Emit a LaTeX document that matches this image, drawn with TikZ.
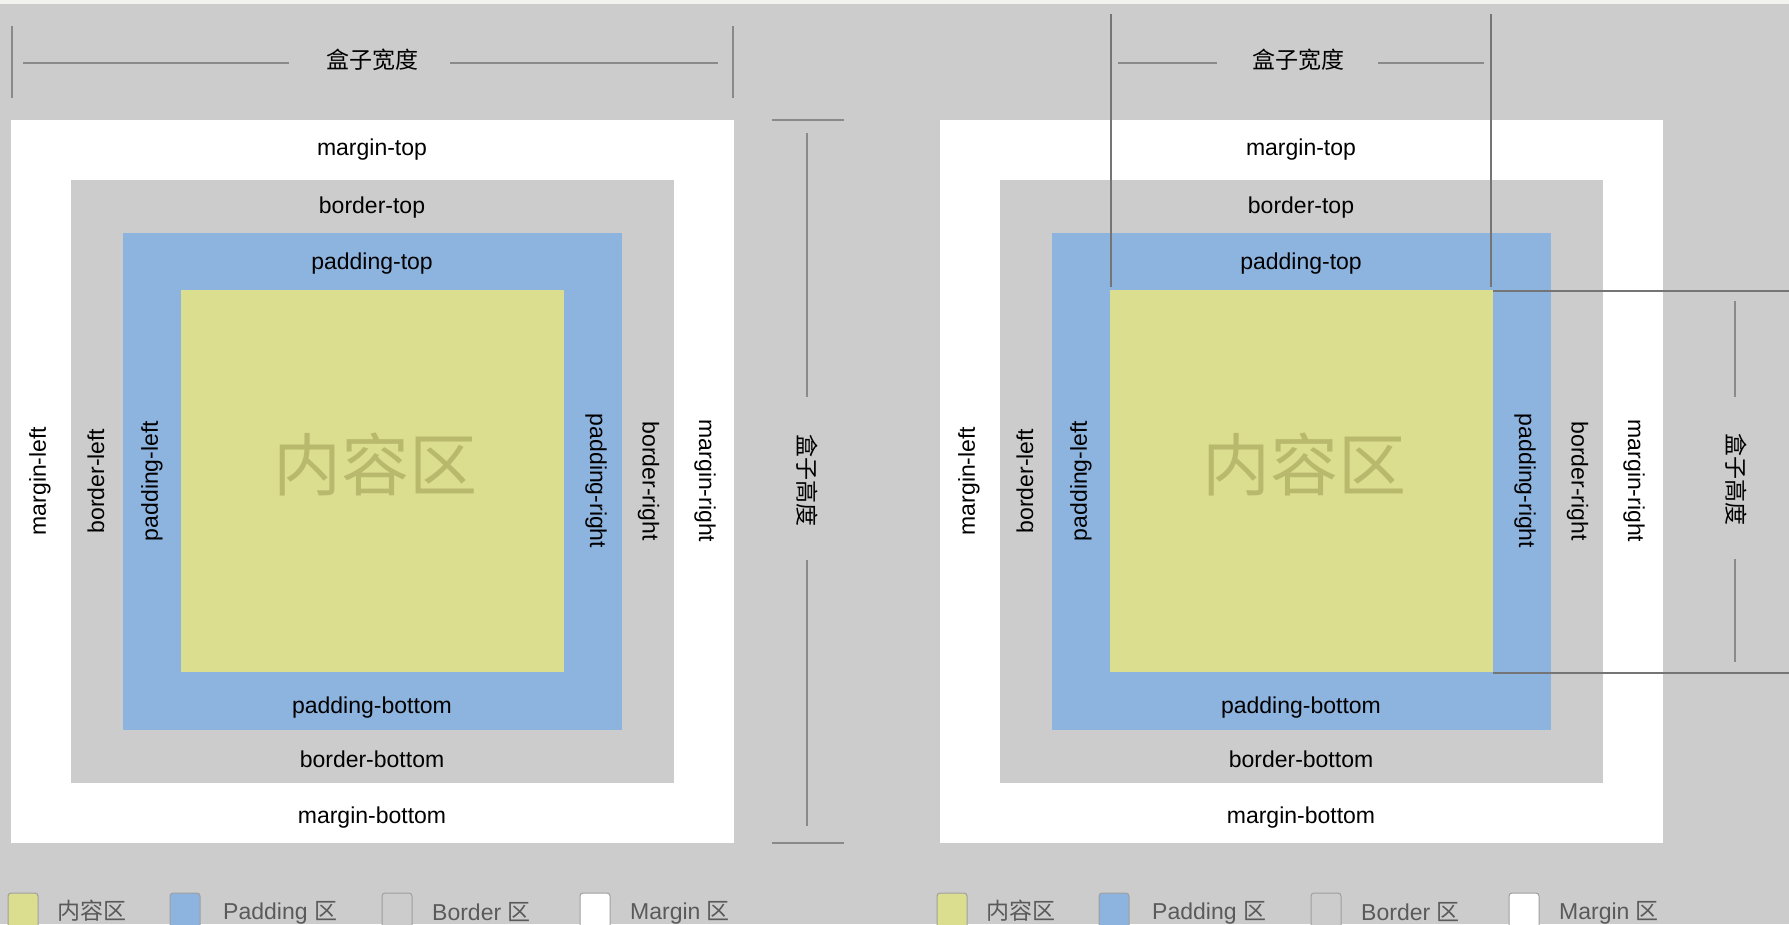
\documentclass[tikz,border=0pt]{standalone}
\usepackage{fontspec}
\setmainfont{Liberation Sans}
\newfontfamily\cjk{Noto Sans CJK SC}
\definecolor{bgc}{HTML}{CCCCCC}
\definecolor{topc}{HTML}{F2F2EE}
\definecolor{contentc}{HTML}{DBDD8F}
\definecolor{paddingc}{HTML}{8DB3DF}
\definecolor{borderc}{HTML}{CCCCCC}
\definecolor{marginc}{HTML}{FFFFFF}
\definecolor{bigtextc}{HTML}{B9B96E}
\definecolor{dimc}{HTML}{8A8A8A}
\definecolor{legtextc}{HTML}{5A5A5A}
\tikzset{
  lbl/.style={font=\fontsize{23}{26}\selectfont, text=black, inner sep=0pt, anchor=center},
  dimtxt/.style={font=\cjk\fontsize{23}{26}\selectfont, text=black, inner sep=0pt, anchor=center},
  dimline/.style={draw=dimc, line width=1.4pt},
  guideline/.style={draw=dimc!85!black, line width=1.2pt},
  legbox/.style={draw=gray!75, line width=1pt, rounded corners=3pt},
  legtxt/.style={font=\fontsize{23}{26}\selectfont, text=legtextc, inner sep=0pt, anchor=west},
  bigtxt/.style={font=\cjk\fontsize{68}{70}\selectfont, text=bigtextc, inner sep=0pt, anchor=center}
}
\begin{document}
\begin{tikzpicture}[x=1pt,y=-1pt]
\useasboundingbox (0,0) rectangle (1789,924);
\clip (0,0) rectangle (1789,924);
\fill[bgc] (0,0) rectangle (1789,924);
\fill[topc] (0,0) rectangle (1789,4);

\foreach \o/\p in {0/L,929/R}{
  \begin{scope}[xshift=\o pt]
    \fill[marginc] (11,120) rectangle (734,843);
    \fill[borderc] (71,180) rectangle (674,783);
    \fill[paddingc] (123,233) rectangle (622,730);
    \fill[contentc] (181,290) rectangle (564,672);
    \node[bigtxt] (\p-big) at (375,464) {内容区};
    \node[lbl] (\p-mt) at (372,149.5) {margin-top};
    \node[lbl] (\p-bt) at (372,207.5) {border-top};
    \node[lbl] (\p-pt) at (372,263.5) {padding-top};
    \node[lbl] (\p-pb) at (372,707.5) {padding-bottom};
    \node[lbl] (\p-bb) at (372,759.5) {border-bottom};
    \node[lbl] (\p-mb) at (372,817.5) {margin-bottom};
    \node[lbl,rotate=90] (\p-ml) at (40,481) {margin-left};
    \node[lbl,rotate=90] (\p-bl) at (96,481) {border-left};
    \node[lbl,rotate=90] (\p-pl) at (152,481) {padding-left};
    \node[lbl,rotate=-90] (\p-pr) at (596,481) {padding-right};
    \node[lbl,rotate=-90] (\p-br) at (648.5,481) {border-right};
    \node[lbl,rotate=-90] (\p-mr) at (705,481) {margin-right};
    % legend
    \draw[legbox, fill=contentc] (8,893) rectangle (38,932);
    \node[legtxt] (\p-l1) at (57,910.5) {\cjk 内容区};
    \draw[legbox, fill=paddingc] (170,893) rectangle (200,932);
    \node[legtxt] (\p-l2) at (223,912.5) {Padding {\cjk 区}};
    \draw[legbox, fill=borderc] (382,893) rectangle (412,932);
    \node[legtxt] (\p-l3) at (432,912.5) {Border {\cjk 区}};
    \draw[legbox, fill=marginc] (580,893) rectangle (610,932);
    \node[legtxt] (\p-l4) at (630,912.5) {Margin {\cjk 区}};
  \end{scope}
}

% left panel width dimension
\node[dimtxt] (Lw) at (372,60) {盒子宽度};
\coordinate (Lw1) at (23,63);
\coordinate (Lw2) at (289,63);
\coordinate (Lw3) at (450,63);
\coordinate (Lw4) at (718,63);
\draw[dimline] (Lw1) -- (Lw2);
\draw[dimline] (Lw3) -- (Lw4);
\coordinate (Lt1a) at (12,26); \coordinate (Lt1b) at (12,98);
\coordinate (Lt2a) at (733,26); \coordinate (Lt2b) at (733,98);
\draw[dimline] (Lt1a) -- (Lt1b);
\draw[dimline] (Lt2a) -- (Lt2b);

% left panel height dimension
\node[dimtxt, rotate=-90] (Lh) at (807,480) {盒子高度};
\coordinate (Lh1) at (772,120); \coordinate (Lh2) at (844,120);
\coordinate (Lh3) at (772,843); \coordinate (Lh4) at (844,843);
\draw[dimline] (Lh1) -- (Lh2);
\draw[dimline] (Lh3) -- (Lh4);
\coordinate (Lv1) at (807,133); \coordinate (Lv2) at (807,397);
\coordinate (Lv3) at (807,560); \coordinate (Lv4) at (807,826);
\draw[dimline] (Lv1) -- (Lv2);
\draw[dimline] (Lv3) -- (Lv4);

% right panel width dimension
\node[dimtxt] (Rw) at (1298,60) {盒子宽度};
\coordinate (Rw1) at (1118,63); \coordinate (Rw2) at (1217,63);
\coordinate (Rw3) at (1378,63); \coordinate (Rw4) at (1484,63);
\draw[dimline] (Rw1) -- (Rw2);
\draw[dimline] (Rw3) -- (Rw4);
\coordinate (Rg1a) at (1111,14); \coordinate (Rg1b) at (1111,287);
\coordinate (Rg2a) at (1491,14); \coordinate (Rg2b) at (1491,287);
\draw[guideline] (Rg1a) -- (Rg1b);
\draw[guideline] (Rg2a) -- (Rg2b);

% right panel height dimension
\coordinate (Rh1) at (1493,291); \coordinate (Rh2) at (1789,291);
\coordinate (Rh3) at (1493,673); \coordinate (Rh4) at (1789,673);
\draw[guideline] (Rh1) -- (Rh2);
\draw[guideline] (Rh3) -- (Rh4);
\node[dimtxt, rotate=-90] (Rh) at (1736,479) {盒子高度};
\coordinate (Rv1) at (1735,301); \coordinate (Rv2) at (1735,397);
\coordinate (Rv3) at (1735,559); \coordinate (Rv4) at (1735,662);
\draw[dimline] (Rv1) -- (Rv2);
\draw[dimline] (Rv3) -- (Rv4);
\end{tikzpicture}
\end{document}
